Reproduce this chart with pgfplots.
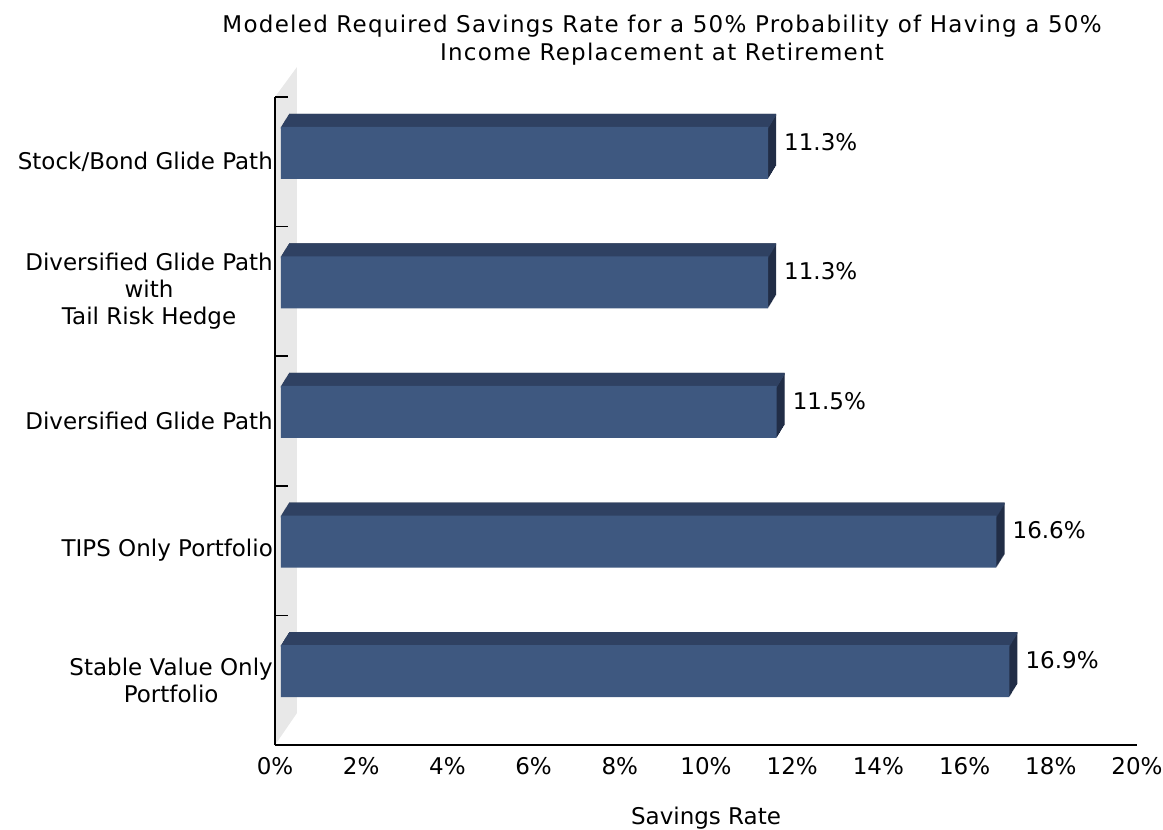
\documentclass[border=0pt]{standalone}
\usepackage{fontspec}
\setmainfont{DejaVu Sans}
\usepackage{pgfplots}
\usepackage{pgfplotstable}
\pgfplotsset{compat=1.18}

\definecolor{barfront}{RGB}{62,88,128}
\definecolor{bartop}{RGB}{47,65,98}
\definecolor{barside}{RGB}{33,45,70}
\definecolor{wallgray}{RGB}{232,232,232}

\newcommand{\lblfont}{\fontsize{23bp}{27bp}\selectfont}
\newcommand{\ttlfont}{\fontsize{23bp}{28bp}\selectfont\addfontfeatures{LetterSpace=5.5}}

% y: 0 = bottom category, 4 = top category
\pgfplotstableread{
y val
0 16.9
1 16.6
2 11.5
3 11.3
4 11.3
}\savings

\begin{document}
\begin{tikzpicture}
\begin{axis}[
    scale only axis,
    width=862bp, height=648bp,
    xmin=0, xmax=20,
    ymin=-0.5, ymax=4.5,
    axis lines=left,
    axis line style={-, line width=1.2bp},
    axis on top,
    xbar, bar width=52bp,
    xtick={0,2,...,20},
    xticklabel={\pgfmathprintnumber{\tick}\%},
    ytick={0,1,2,3,4},
    yticklabels={{Stable Value Only\\Portfolio},{TIPS Only Portfolio},{Diversified Glide Path},{Diversified Glide Path\\with\\Tail Risk Hedge},{Stock/Bond Glide Path}},
    major tick length=0pt,
    tick style={line width=1.5bp, black},
    extra y ticks={0.5,1.5,2.5,3.5,4.5},
    extra y tick labels={},
    extra tick style={major tick length=13bp, tick align=inside},
    /pgf/number format/assume math mode=true,
    tick label style={font=\lblfont},
    y tick label style={align=center, inner sep=2bp},
    x tick label style={inner sep=0pt, yshift=-12bp},
    xlabel={Savings Rate},
    xlabel style={font=\lblfont, at={(axis description cs:0.5,-0.1127)}, anchor=center},
    title={Modeled Required Savings Rate for a 50\% Probability of Having a 50\%\\Income Replacement at Retirement},
    title style={font=\ttlfont, align=center, at={(axis description cs:0.449,1.079)}, anchor=center},
    clip=false,
]
% back wall
\fill[wallgray] (axis cs:0,-0.5) -- ([shift={(22bp,32bp)}]axis cs:0,-0.5)
    -- ([shift={(22bp,30bp)}]axis cs:0,4.5) -- (axis cs:0,4.5) -- cycle;

% right face: swept copies of the bar
\pgfplotsinvokeforeach{1,...,13}{
  \addplot[fill=barside, draw=none, bar shift=0pt, xshift={6bp+#1*0.62bp}, yshift={9bp+#1*1bp}]
    table[x=val, y=y] {\savings};
}
% top face: thin strips along each swept copy's upper edge
\pgfplotsinvokeforeach{0,...,13}{
  \addplot[fill=bartop, draw=none, bar shift=0pt, bar width=2bp, xshift={6bp+#1*0.62bp}, yshift={34bp+#1*1bp}]
    table[x=val, y=y] {\savings};
}
% front face with value labels
\addplot[fill=barfront, draw=none, bar shift=0pt, xshift=6bp, yshift=9bp,
    nodes near coords={\pgfmathprintnumber[fixed,fixed zerofill,precision=1]{\pgfplotspointmeta}\%},
    point meta=x,
    nodes near coords style={font=\lblfont, anchor=west, inner sep=0pt, xshift=16bp, yshift=11bp, text=black}]
  table[x=val, y=y] {\savings};
\end{axis}
\pgfresetboundingbox
\path (-275bp,-85bp) rectangle (888bp,745bp);
\end{tikzpicture}
\end{document}
